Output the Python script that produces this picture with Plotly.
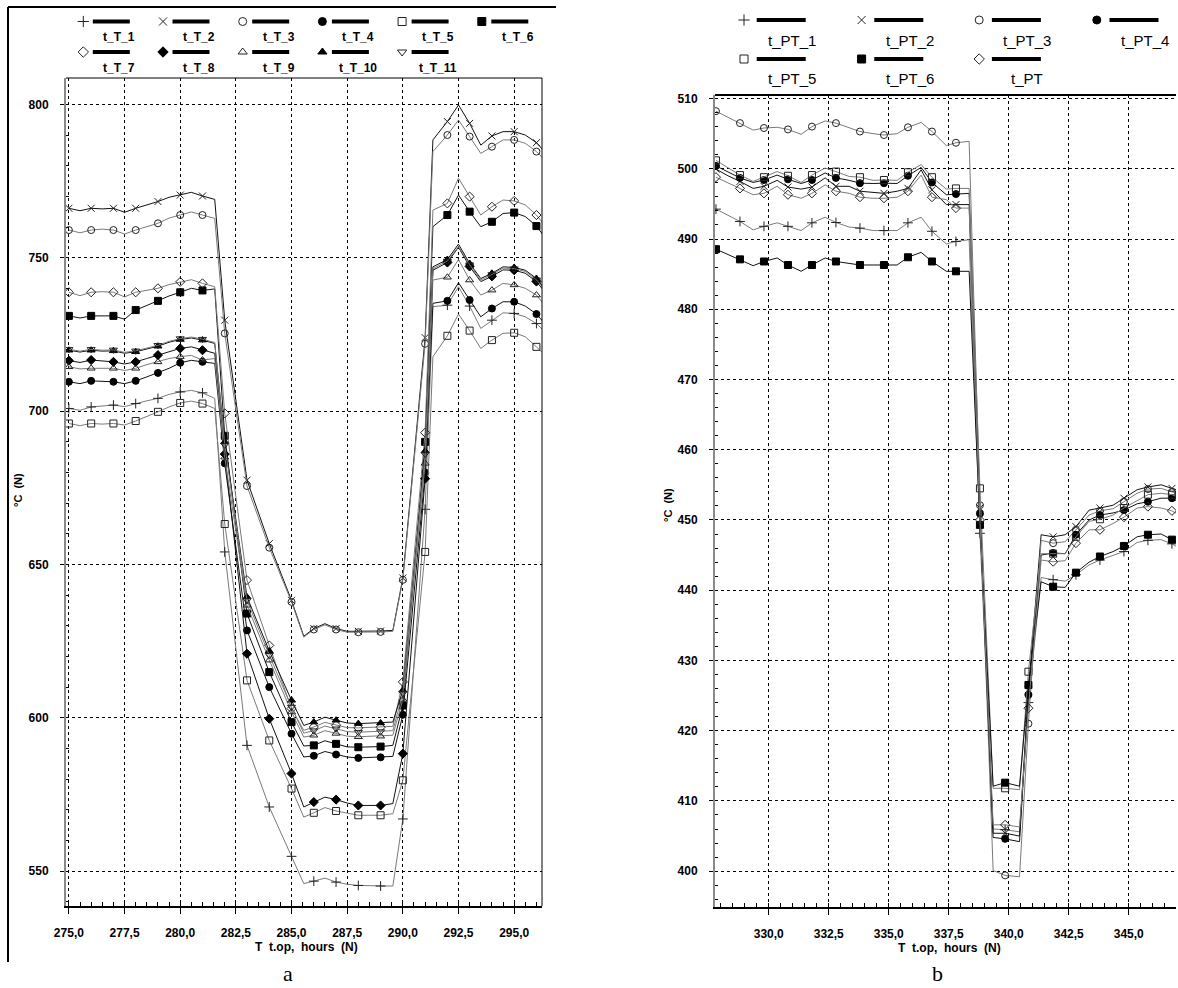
import plotly.graph_objects as go

W, H = 1178, 988

# ---------------- panel a data ----------------
XA = [275, 275.5, 276, 276.5, 277, 277.5, 278, 278.5, 279, 279.5, 280, 280.5, 281, 281.55,
      282, 283, 284, 285, 285.55, 286, 286.5, 287, 287.5, 288, 288.5, 289, 289.55, 290,
      291, 291.35, 292, 292.5, 293, 293.5, 294, 294.5, 295, 295.5, 296, 296.3]

T_NAMES = ["t_T_1", "t_T_2", "t_T_3", "t_T_4", "t_T_5", "t_T_6",
           "t_T_7", "t_T_8", "t_T_9", "t_T_10", "t_T_11"]

T_1 = [700.9, 700.3, 701.4, 701.6, 702.0, 701.5, 702.5, 703.4, 704.2, 705.5, 706.3, 706.8, 706.0, 704.2,
       654.1, 591.0, 570.9, 554.8, 545.9, 546.7, 547.7, 546.4, 545.7, 545.3, 545.2, 545.1, 545.1, 567.0,
       668.0, 734.1, 734.6, 740.6, 734.3, 727.0, 729.7, 732.1, 731.9, 730.8, 728.6, 726.5]
T_2 = [766.2, 765.4, 766.2, 766.0, 766.2, 764.9, 766.2, 767.3, 768.4, 769.8, 770.5, 771.4, 770.2, 769.1,
       729.7, 677.5, 656.8, 638.3, 626.6, 629.1, 630.7, 629.1, 628.2, 628.2, 628.3, 628.3, 628.5, 645.6,
       724.0, 788.5, 794.5, 799.9, 793.9, 786.8, 789.8, 791.2, 791.2, 790.1, 787.6, 785.2]
T_3 = [759.1, 758.2, 759.1, 759.4, 759.1, 757.8, 759.1, 760.2, 761.3, 763.0, 764.0, 765.0, 764.0, 762.9,
       725.4, 675.6, 655.5, 637.8, 626.3, 628.8, 630.3, 628.8, 627.9, 627.9, 628.0, 628.0, 628.2, 645.0,
       722.0, 784.7, 790.1, 795.0, 789.6, 784.1, 786.3, 788.5, 788.5, 787.4, 784.7, 782.5]
T_4 = [709.6, 709.0, 709.9, 709.7, 709.6, 709.0, 709.9, 711.2, 712.5, 714.0, 715.8, 716.6, 716.1, 715.6,
       683.0, 628.5, 610.0, 594.8, 587.2, 587.6, 589.0, 588.0, 587.2, 586.9, 587.0, 587.1, 587.4, 601.0,
       680.0, 735.2, 736.0, 741.9, 736.3, 730.8, 733.5, 735.7, 735.7, 734.3, 731.7, 729.2]
T_5 = [696.0, 695.3, 696.0, 695.8, 696.0, 695.5, 696.8, 698.2, 699.8, 701.4, 702.7, 703.3, 702.5, 700.9,
       663.2, 612.2, 592.6, 576.9, 567.6, 569.0, 570.7, 569.6, 568.8, 568.2, 568.2, 568.2, 568.7, 579.6,
       654.1, 717.8, 724.6, 731.7, 726.3, 720.5, 723.2, 725.4, 725.6, 724.3, 721.0, 718.9]
T_6 = [731.1, 730.4, 731.1, 731.0, 731.1, 730.0, 733.0, 734.5, 736.0, 737.6, 738.8, 740.1, 739.4, 739.9,
       692.0, 634.0, 614.9, 598.6, 590.8, 591.0, 592.5, 591.5, 590.5, 590.4, 590.5, 590.6, 591.0, 604.0,
       690.0, 760.2, 764.0, 770.5, 765.1, 760.2, 761.8, 764.5, 764.8, 763.5, 760.4, 757.5]
T_7 = [738.8, 737.7, 738.8, 739.0, 738.8, 737.3, 738.8, 739.5, 740.1, 741.3, 742.2, 742.9, 741.7, 740.6,
       699.3, 644.9, 623.6, 603.0, 595.9, 597.0, 598.5, 597.6, 596.8, 596.7, 596.8, 596.9, 597.2, 611.7,
       693.0, 765.6, 767.8, 776.0, 770.0, 764.0, 766.7, 768.9, 768.6, 767.3, 764.0, 761.3]
T_8 = [716.5, 715.9, 716.7, 716.5, 716.1, 715.4, 716.1, 717.2, 718.3, 719.6, 720.5, 721.0, 719.9, 718.9,
       686.0, 620.9, 599.7, 581.8, 570.9, 572.5, 574.1, 573.3, 572.2, 571.4, 571.4, 571.4, 572.0, 588.3,
       678.0, 746.0, 748.5, 753.5, 747.2, 742.3, 744.0, 746.1, 746.0, 745.0, 742.3, 739.6]
T_9 = [714.5, 713.8, 714.0, 714.0, 714.0, 713.3, 714.0, 715.2, 716.1, 717.2, 717.8, 718.2, 716.7, 717.2,
       685.0, 636.7, 618.8, 601.9, 593.7, 594.3, 595.8, 594.9, 594.0, 593.8, 593.9, 594.0, 594.3, 606.0,
       683.0, 742.8, 743.7, 749.5, 742.8, 737.9, 739.5, 741.7, 741.2, 740.1, 737.9, 735.2]
T_10 = [719.9, 719.3, 719.9, 719.6, 719.7, 718.9, 719.4, 720.3, 721.2, 722.5, 723.4, 723.9, 723.2, 722.1,
        690.0, 639.4, 621.8, 605.7, 597.5, 598.6, 600.2, 599.2, 598.3, 598.1, 598.2, 598.3, 598.6, 609.0,
        687.0, 747.1, 749.5, 754.5, 748.2, 743.3, 745.0, 747.1, 746.9, 746.0, 743.3, 740.6]
T_11 = [720.2, 719.6, 720.2, 719.9, 720.0, 719.2, 719.7, 720.6, 721.5, 722.8, 723.7, 724.2, 723.5, 722.4,
        689.0, 638.3, 620.4, 603.5, 595.0, 595.8, 597.3, 596.4, 595.5, 595.3, 595.4, 595.5, 595.8, 608.0,
        686.0, 746.5, 749.0, 753.7, 747.8, 742.8, 744.6, 746.7, 746.5, 745.6, 742.9, 740.2]

A_XTICKS = [275, 277.5, 280, 282.5, 285, 287.5, 290, 292.5, 295]
A_XTICKTEXT = ["275,0", "277,5", "280,0", "282,5", "285,0", "287,5", "290,0", "292,5", "295,0"]

# ---------------- panel b data ----------------
XB = [327.8, 328.3, 328.8, 329.35, 329.8, 330.35, 330.8, 331.35, 331.8, 332.35, 332.8, 333.35, 333.8,
      334.35, 334.8, 335.35, 335.8, 336.35, 336.8, 337.4, 337.8, 338.35, 338.8, 339.35, 339.85, 340.45,
      340.82, 341.35, 341.85, 342.35, 342.8, 343.35, 343.8, 344.35, 344.8, 345.35, 345.8, 346.35, 346.8, 347.0]

PT_NAMES = ["t_PT_1", "t_PT_2", "t_PT_3", "t_PT_4", "t_PT_5", "t_PT_6", "t_PT"]

PT_1 = [494.25, 493.4, 492.5, 491.3, 491.8, 492.3, 491.8, 491.2, 492.3, 493.1, 492.35, 491.7, 491.55,
        491.2, 491.2, 491.2, 492.3, 493.1, 491.1, 489.3, 489.65, 489.9, 448.1, 406.0, 405.9, 405.6,
        424.0, 441.8, 441.5, 441.3, 442.2, 443.6, 444.3, 444.9, 445.5, 446.8, 447.1, 447.2, 446.6, 446.2]
PT_2 = [499.95, 499.0, 498.2, 497.2, 497.5, 498.35, 497.4, 497.1, 497.4, 498.7, 497.5, 497.5, 496.8,
        496.6, 496.5, 496.8, 497.2, 499.85, 497.0, 494.9, 494.9, 494.9, 451.7, 405.4, 405.4, 405.0,
        425.8, 447.9, 447.6, 447.9, 449.05, 451.4, 451.7, 452.1, 453.1, 454.3, 454.7, 455.0, 454.5, 454.3]
PT_3 = [508.2, 507.3, 506.5, 505.5, 505.8, 505.9, 505.6, 504.9, 506.0, 506.8, 506.5, 505.9, 505.3,
        505.0, 504.8, 505.0, 505.9, 506.6, 505.3, 503.3, 503.7, 503.9, 452.1, 400.1, 399.4, 399.2,
        421.0, 447.1, 446.7, 446.9, 448.6, 450.7, 451.3, 451.6, 452.6, 453.8, 454.4, 454.5, 454.0, 453.8]
PT_4 = [500.4, 499.5, 498.7, 498.05, 498.4, 499.1, 498.5, 497.9, 498.4, 499.4, 498.7, 498.35, 497.95,
        497.9, 497.95, 497.9, 499.0, 500.2, 498.05, 496.3, 496.4, 496.5, 450.9, 404.8, 404.6, 404.2,
        425.1, 445.0, 445.3, 445.2, 447.9, 450.0, 450.7, 451.0, 451.4, 452.3, 452.6, 453.1, 453.1, 452.7]
PT_5 = [501.2, 500.1, 499.1, 498.2, 498.8, 499.6, 499.0, 498.05, 499.1, 500.1, 499.6, 498.9, 498.8,
        498.35, 498.4, 498.35, 499.5, 500.6, 498.8, 497.1, 497.2, 497.2, 454.5, 411.8, 411.8, 411.6,
        428.4, 445.2, 445.2, 445.2, 447.6, 449.8, 450.1, 450.7, 451.7, 452.8, 453.6, 453.8, 453.6, 453.3]
PT_6 = [488.55, 487.8, 487.1, 486.2, 486.8, 487.3, 486.3, 485.4, 486.3, 487.3, 486.8, 486.5, 486.3,
        486.3, 486.3, 486.3, 487.4, 488.1, 486.8, 485.4, 485.4, 485.4, 449.3, 412.1, 412.6, 412.1,
        426.5, 441.2, 440.5, 440.4, 442.5, 444.0, 444.8, 445.5, 446.3, 447.6, 447.9, 448.0, 447.2, 446.9]
PT_7 = [498.8, 498.0, 497.2, 496.3, 496.5, 497.5, 496.3, 495.8, 496.5, 497.7, 496.8, 496.5, 495.95,
        495.8, 495.8, 495.95, 496.8, 499.1, 495.95, 495.6, 494.4, 494.4, 450.0, 406.6, 406.6, 406.3,
        423.2, 444.3, 444.06, 444.2, 446.7, 448.6, 448.6, 449.5, 450.4, 451.7, 451.9, 451.7, 451.3, 450.9]

B_XTICKS = [330, 332.5, 335, 337.5, 340, 342.5, 345]
B_XTICKTEXT = ["330,0", "332,5", "335,0", "337,5", "340,0", "342,5", "345,0"]

# ---------------- styles ----------------
T_SYMBOLS = ["cross-thin", "x-thin", "circle-open", "circle", "square-open", "square",
             "diamond-open", "diamond", "triangle-up-open", "triangle-up", "triangle-down-open"]
T_LINECOL = ["#7a7a7a", "#111111", "#7a7a7a", "#111111", "#7a7a7a", "#111111",
             "#7a7a7a", "#111111", "#7a7a7a", "#111111", "#7a7a7a"]
PT_SYMBOLS = ["cross-thin", "x-thin", "circle-open", "circle", "square-open", "square", "diamond-open"]
PT_LINECOL = ["#7a7a7a", "#111111", "#7a7a7a", "#111111", "#7a7a7a", "#111111", "#7a7a7a"]

FONT = "Liberation Sans, Arial, sans-serif"
fig = go.Figure()


def marker_style(sym, size):
    col = "#222222" if "open" in sym or "thin" in sym else "#000000"
    return dict(symbol=sym, size=size, color=col,
                line=dict(width=1, color=col))


def add_series(x, y, sym, lcol, xa, ya, is_marker):
    fig.add_trace(go.Scatter(x=x, y=y, mode="lines", line=dict(color=lcol, width=1),
                             xaxis=xa, yaxis=ya, showlegend=False, hoverinfo="skip"))
    mx = [xi for xi in x if is_marker(xi)]
    my = [yi for xi, yi in zip(x, y) if is_marker(xi)]
    fig.add_trace(go.Scatter(x=mx, y=my, mode="markers", marker=marker_style(sym, 7),
                             xaxis=xa, yaxis=ya, showlegend=False))


def is_int_hour(v):
    return abs(v - round(v)) < 1e-6


def is_b_marker(v):
    f = v - 0.8
    return abs(f - round(f)) < 0.07


A_SERIES = [T_1, T_2, T_3, T_4, T_5, T_6, T_7, T_8, T_9, T_10, T_11]
for ys, sym, lc in zip(A_SERIES, T_SYMBOLS, T_LINECOL):
    add_series(XA, ys, sym, lc, "x", "y", is_int_hour)

B_SERIES = [PT_1, PT_2, PT_3, PT_4, PT_5, PT_6, PT_7]
for ys, sym, lc in zip(B_SERIES, PT_SYMBOLS, PT_LINECOL):
    add_series(XB, ys, sym, lc, "x2", "y2", is_b_marker)

# ---------------- custom legends (pixel axis) ----------------
annotations = []


def legend_entry(sx, sy, sym, name, line_x0, line_x1, lab_dx, lab_dy, fsize, bold):
    fig.add_trace(go.Scatter(x=[sx + line_x0, sx + line_x1], y=[sy, sy], mode="lines",
                             line=dict(color="black", width=4), xaxis="x3", yaxis="y3",
                             showlegend=False, hoverinfo="skip"))
    fig.add_trace(go.Scatter(x=[sx], y=[sy], mode="markers", marker=marker_style(sym, 8),
                             xaxis="x3", yaxis="y3", showlegend=False, hoverinfo="skip"))
    txt = "<b>%s</b>" % name if bold else name
    annotations.append(dict(x=(sx + lab_dx) / W, y=1 - (sy + lab_dy) / H, xref="paper", yref="paper",
                            text=txt, showarrow=False, xanchor="center", yanchor="middle",
                            font=dict(family=FONT, size=fsize, color="#000000")))


for i, (nm, sym) in enumerate(zip(T_NAMES, T_SYMBOLS)):
    col, row = i % 6, i // 6
    legend_entry(83.3 + col * 79.7, 21.5 + row * 30.5, sym, nm, 9.5, 46.5, 36, 15.5, 12, True)

for i, (nm, sym) in enumerate(zip(PT_NAMES, PT_SYMBOLS)):
    col, row = i % 4, i // 4
    legend_entry(744 + col * 117.6, 20 + row * 39, sym, nm, 12.7, 61.7, 48, 20, 15, False)

# ---------------- axes ----------------
tickfont = dict(family=FONT, size=12, color="#000000", weight="bold")
grid = dict(showgrid=True, gridcolor="#000000", gridwidth=1, griddash="3px,3px")

ax_a = dict(domain=[66 / W, 542 / W], range=[274.87, 296.25], tickmode="array",
            tickvals=A_XTICKS, ticktext=A_XTICKTEXT, ticks="outside", ticklen=6, tickcolor="black",
            showline=True, linecolor="black", linewidth=2, tickfont=tickfont,
            ticklabelstandoff=9, anchor="y", zeroline=False, automargin=False,
            minor=dict(tickmode="linear", tick0=275, dtick=0.5, ticks="inside", ticklen=4,
                       tickcolor="black", showgrid=False), **grid)
ay_a = dict(domain=[(H - 906) / H, (H - 78) / H], range=[538.6, 808.7], tickmode="linear",
            tick0=550, dtick=50, ticks="outside", ticklen=4, tickcolor="black",
            showline=True, linecolor="#8a8a8a", linewidth=2, tickfont=tickfont,
            ticklabelstandoff=9, anchor="x", zeroline=False, automargin=False,
            minor=dict(tickmode="linear", tick0=550, dtick=10, ticks="inside", ticklen=3,
                       tickcolor="black", showgrid=False), **grid)
ax_b = dict(domain=[715 / W, 1176 / W], range=[327.76, 346.97], tickmode="array",
            tickvals=B_XTICKS, ticktext=B_XTICKTEXT, ticks="outside", ticklen=6, tickcolor="black",
            showline=True, linecolor="black", linewidth=2, tickfont=tickfont,
            ticklabelstandoff=9, anchor="y2", zeroline=False, automargin=False,
            minor=dict(tickmode="linear", tick0=330, dtick=0.5, ticks="inside", ticklen=4,
                       tickcolor="black", showgrid=False), **grid)
ay_b = dict(domain=[(H - 907) / H, (H - 95) / H], range=[394.9, 510.5], tickmode="linear",
            tick0=400, dtick=10, ticks="outside", ticklen=4, tickcolor="black",
            showline=True, linecolor="#8a8a8a", linewidth=2, tickfont=tickfont,
            ticklabelstandoff=9, anchor="x2", zeroline=False, automargin=False,
            minor=dict(tickmode="linear", tick0=400, dtick=2, ticks="inside", ticklen=3,
                       tickcolor="black", showgrid=False), **grid)

ax_leg = dict(domain=[0, 1], range=[0, W], visible=False, anchor="y3", fixedrange=True,
              automargin=False)
ay_leg = dict(domain=[0, 1], range=[H, 0], visible=False, anchor="x3", fixedrange=True,
              automargin=False)


def px_ann(x, y, text, size=12, angle=0, family=FONT, bold=True):
    annotations.append(dict(x=x / W, y=1 - y / H, xref="paper", yref="paper",
                            text=("<b>%s</b>" % text) if bold else text, showarrow=False,
                            textangle=angle, xanchor="center", yanchor="middle",
                            font=dict(family=family, size=size, color="#000000")))


px_ann(306, 947, "T  t.op,  hours  (N)")
px_ann(950, 948, "T  t.op,  hours  (N)")
px_ann(18, 490, "°C  (N)", size=11, angle=-90)
px_ann(668, 505, "°C  (N)", size=11, angle=-90)
px_ann(288, 973, "a", size=22, family="Liberation Serif, Times New Roman, serif", bold=False)
px_ann(937, 973, "b", size=22, family="Liberation Serif, Times New Roman, serif", bold=False)


def pline(x0, y0, x1, y1, color="black", width=1):
    return dict(type="line", xref="paper", yref="paper", x0=x0 / W, y0=1 - y0 / H,
                x1=x1 / W, y1=1 - y1 / H, line=dict(color=color, width=width))


shapes = [
    pline(8, 7, 556, 7, width=2),        # frame top (panel a)
    pline(8, 7, 8, 962, width=2),        # frame left (panel a)
    pline(66, 78, 542, 78, width=1),     # plot a top border
    pline(542, 78, 542, 906, width=1),   # plot a right border
    pline(715, 95, 1176, 95, width=2),   # plot b top border
]

fig.update_layout(
    width=W, height=H, margin=dict(l=0, r=0, t=0, b=0, autoexpand=False),
    paper_bgcolor="white", plot_bgcolor="rgba(0,0,0,0)",
    xaxis=ax_a, yaxis=ay_a, xaxis2=ax_b, yaxis2=ay_b, xaxis3=ax_leg, yaxis3=ay_leg,
    annotations=annotations, shapes=shapes, showlegend=False,
)

fig.write_html("out.html", config={"displayModeBar": False},
               post_script="document.body.style.margin='0';document.body.style.padding='0';"
                           "document.documentElement.style.overflow='hidden';")
